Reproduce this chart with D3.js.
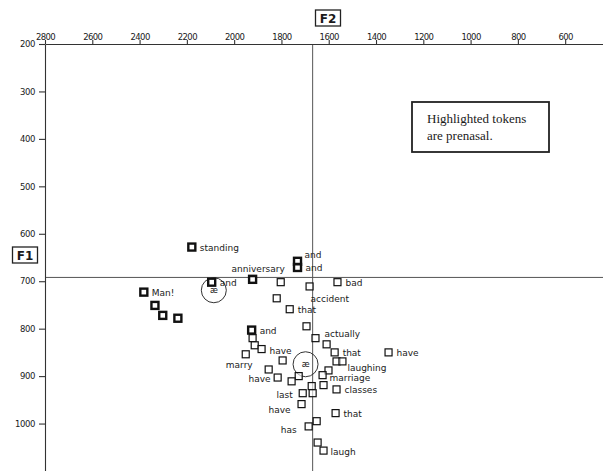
<!DOCTYPE html>
<html>
<head>
<meta charset="utf-8">
<script src="https://cdn.jsdelivr.net/npm/d3@7"></script>
<style>
  body { margin: 0; background: #fff; }
  text { font-family: "DejaVu Sans", sans-serif; fill: #1a1a1a; }
</style>
</head>
<body>
<div id="my_dataviz"></div>
<script>
// tokens (F2 in Hz, F1 in Hz), word labels, prenasal flag
var f2 = [2179, 2382, 2335, 2302, 2238, 2095, 1922, 1732, 1732, 1803, 1681, 1563, 1820, 1765, 1926,
  1694, 1656, 1609, 1922, 1913, 1884, 1951, 1575, 1347, 1795, 1567, 1542, 1854, 1601, 1626, 1816,
  1727, 1757, 1672, 1622, 1567, 1710, 1668, 1715, 1571, 1651, 1685, 1647, 1622];
var f1 = [628, 723, 751, 772, 778, 702, 696, 658, 671, 702, 711, 702, 736, 759, 803,
  795, 820, 833, 820, 835, 843, 854, 850, 850, 867, 869, 869, 886, 888, 898, 903,
  900, 911, 921, 919, 928, 936, 936, 959, 978, 995, 1006, 1040, 1057];
var words = ["standing", "Man!", "", "", "", "and", "anniversary", "and", "and", "", "accident", "bad", "", "that", "and",
  "", "actually", "", "", "", "have", "", "that", "have", "", "", "laughing", "marry", "", "marriage", "have",
  "", "", "", "", "classes", "last", "", "have", "that", "", "has", "", "laugh"];
var prenasal = [1, 1, 1, 1, 1, 1, 1, 1, 1, 0, 0, 0, 0, 0, 1,
  0, 0, 0, 0, 0, 0, 0, 0, 0, 0, 0, 0, 0, 0, 0, 0,
  0, 0, 0, 0, 0, 0, 0, 0, 0, 0, 0, 0, 0];

// circled means for the two groups
var meanF2 = [2086, 1698];
var meanF1 = [719, 875];
var meanSymbol = ["æ", "æ"];

// crosshair lines (overall means)
var crossF2 = 1668;
var crossF1 = 692;

var f2Ticks = [2800, 2600, 2400, 2200, 2000, 1800, 1600, 1400, 1200, 1000, 800, 600];
var f1Ticks = [200, 300, 400, 500, 600, 700, 800, 900, 1000];

var width = 603,
  height = 471,
  plotLeft = 45,
  plotTop = 44;

var svg = d3.select("#my_dataviz")
  .append("svg")
  .attr("width", width)
  .attr("height", height);

// F2 runs right to left, F1 runs top to bottom
var x = d3.scaleLinear()
  .domain([2800, 440])
  .range([plotLeft, width]);

var y = d3.scaleLinear()
  .domain([200, 1100])
  .range([plotTop, height]);

// crosshair
svg.append("line")
  .attr("x1", x(crossF2)).attr("x2", x(crossF2))
  .attr("y1", plotTop).attr("y2", height)
  .attr("stroke", "#555").attr("stroke-width", 1);
svg.append("line")
  .attr("x1", plotLeft).attr("x2", width)
  .attr("y1", y(crossF1)).attr("y2", y(crossF1))
  .attr("stroke", "#555").attr("stroke-width", 1);

// top axis
var gx = svg.append("g")
  .attr("transform", "translate(0," + plotTop + ")")
  .call(d3.axisTop(x).tickValues(f2Ticks).tickFormat(d3.format("d"))
    .tickSize(4).tickPadding(0).tickSizeOuter(0));
gx.selectAll("text")
  .attr("font-size", "8.5px")
  .attr("letter-spacing", "-0.6px")
  .attr("fill", "#222")
  .style("font-family", "DejaVu Sans");

// left axis
var gy = svg.append("g")
  .attr("transform", "translate(" + plotLeft + ",0)")
  .call(d3.axisLeft(y).tickValues(f1Ticks).tickFormat(d3.format("d"))
    .tickSize(6).tickPadding(4).tickSizeOuter(0));
gy.selectAll("text")
  .attr("font-size", "8.5px")
  .attr("letter-spacing", "-0.4px")
  .attr("fill", "#222")
  .style("font-family", "DejaVu Sans");

svg.selectAll(".domain, .tick line").attr("stroke", "#333").attr("stroke-width", 1.1);

// axis name boxes
function nameBox(cx, cy, label) {
  svg.append("rect")
    .attr("x", cx - 12.5).attr("y", cy - 8)
    .attr("width", 25).attr("height", 16)
    .attr("fill", "#fff").attr("stroke", "#222").attr("stroke-width", 1.3);
  svg.append("text")
    .attr("x", cx).attr("y", cy + 4.5)
    .attr("text-anchor", "middle")
    .attr("font-size", "12px")
    .attr("font-weight", "bold")
    .text(label);
}
nameBox(328, 18, "F2");
nameBox(25, 255, "F1");

// legend note
svg.append("rect")
  .attr("x", 412).attr("y", 102)
  .attr("width", 137).attr("height", 50)
  .attr("fill", "#fff").attr("stroke", "#222").attr("stroke-width", 1.8);
svg.append("text")
  .attr("x", 427).attr("y", 123)
  .attr("font-size", "13px")
  .style("font-family", "Liberation Serif, serif")
  .text("Highlighted tokens");
svg.append("text")
  .attr("x", 427).attr("y", 140)
  .attr("font-size", "13px")
  .style("font-family", "Liberation Serif, serif")
  .text("are prenasal.");

// mean circles
var means = meanF2.map(function(d, i) {
  return { f2: d, f1: meanF1[i], sym: meanSymbol[i] };
});
svg.append("g")
  .selectAll("circle")
  .data(means)
  .enter()
  .append("circle")
  .attr("cx", function(d) { return x(d.f2); })
  .attr("cy", function(d) { return y(d.f1); })
  .attr("r", 12.5)
  .attr("fill", "none")
  .attr("stroke", "#333")
  .attr("stroke-width", 1);
svg.append("g")
  .selectAll("text")
  .data(means)
  .enter()
  .append("text")
  .attr("x", function(d) { return x(d.f2); })
  .attr("y", function(d) { return y(d.f1) + 3; })
  .attr("text-anchor", "middle")
  .attr("font-size", "8px")
  .text(function(d) { return d.sym; });

// tokens
var tokens = f2.map(function(d, i) {
  return { i: i, f2: d, f1: f1[i], word: words[i], nasal: prenasal[i] };
});

var sq = 7;
svg.append("g")
  .selectAll("rect")
  .data(tokens)
  .enter()
  .append("rect")
  .attr("x", function(d) { return x(d.f2) - sq / 2; })
  .attr("y", function(d) { return y(d.f1) - sq / 2; })
  .attr("width", sq)
  .attr("height", sq)
  .attr("fill", "#fff")
  .attr("fill-opacity", 0.6)
  .attr("stroke", "#111")
  .attr("stroke-width", function(d) { return d.nasal ? 2.4 : 1.2; });

// label placement: [dx, dy, anchor], default is to the right of the box
var place = {
  6: [-21, -7], 7: [7, -3], 8: [8, 4], 10: [1, 16], 16: [9, -1], 20: [8, 5],
  26: [5, 10], 27: [-16, -1, "end"], 29: [7, 6], 30: [-7, 4, "end"],
  36: [-10, 5, "end"], 38: [-11, 9, "end"], 41: [-12, 7, "end"], 43: [7, 4]
};

svg.append("g")
  .selectAll("text")
  .data(tokens.filter(function(d) { return d.word; }))
  .enter()
  .append("text")
  .attr("x", function(d) { return x(d.f2) + (place[d.i] ? place[d.i][0] : 8); })
  .attr("y", function(d) { return y(d.f1) + (place[d.i] ? place[d.i][1] : 3.5); })
  .attr("text-anchor", function(d) { return place[d.i] && place[d.i][2] ? place[d.i][2] : "start"; })
  .attr("font-size", "9px")
  .text(function(d) { return d.word; });
</script>
</body>
</html>
